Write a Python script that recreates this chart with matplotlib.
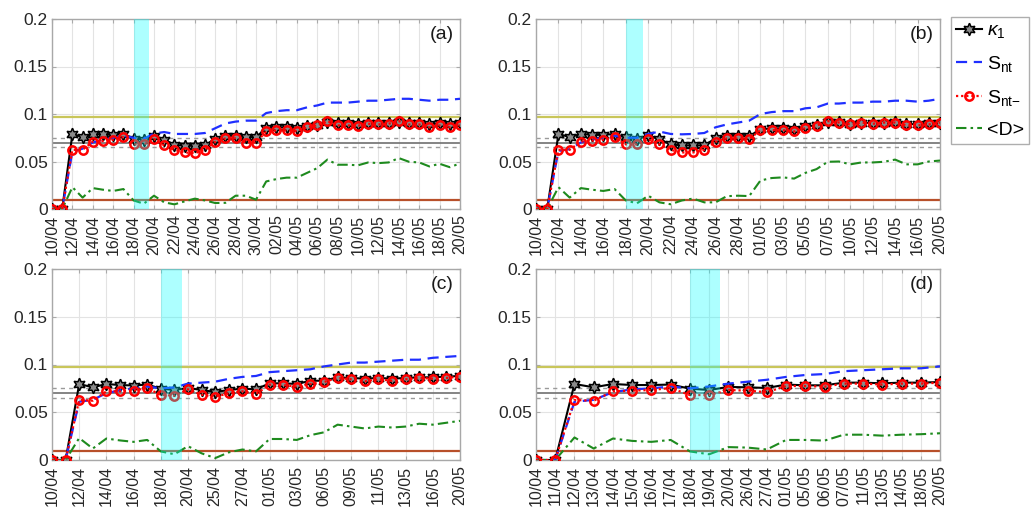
import numpy as np
import matplotlib
matplotlib.use("Agg")
import matplotlib.pyplot as plt

plt.rcParams['font.family'] = ['Liberation Sans', 'DejaVu Sans']
plt.rcParams['mathtext.fontset'] = 'custom'
plt.rcParams['mathtext.rm'] = 'Liberation Sans'
plt.rcParams['mathtext.it'] = 'Liberation Sans:italic'

# ---------------- data ----------------
ticks_a = ['10/04', '12/04', '14/04', '16/04', '18/04', '20/04', '22/04', '24/04', '26/04', '28/04',
           '30/04', '02/05', '04/05', '06/05', '08/05', '10/05', '12/05', '14/05', '16/05', '18/05', '20/05']
kappa_a = [0, 0, 0.079, 0.0757, 0.079, 0.0785, 0.078, 0.079, 0.074, 0.073, 0.077, 0.073, 0.0676, 0.0665,
           0.0665, 0.067, 0.074, 0.077, 0.077, 0.0757, 0.0757, 0.085, 0.086, 0.086, 0.085, 0.087, 0.0886,
           0.092, 0.0904, 0.0904, 0.0897, 0.091, 0.0904, 0.091, 0.092, 0.0904, 0.0904, 0.089, 0.0904, 0.089, 0.0904]
snt_a = [0, 0, 0.0606, 0.0635, 0.07, 0.073, 0.075, 0.077, 0.075, 0.074, 0.0795, 0.081, 0.079, 0.079, 0.079,
         0.08, 0.085, 0.09, 0.092, 0.093, 0.093, 0.101, 0.103, 0.104, 0.104, 0.107, 0.109, 0.112, 0.112, 0.112,
         0.113, 0.114, 0.114, 0.115, 0.116, 0.116, 0.115, 0.114, 0.115, 0.115, 0.116]
sntm_a = [0, 0, 0.0623, 0.0623, 0.071, 0.0715, 0.073, 0.0757, 0.068, 0.068, 0.0736, 0.067, 0.0623, 0.0595,
          0.0588, 0.0623, 0.0707, 0.0743, 0.0743, 0.070, 0.070, 0.0816, 0.0827, 0.0827, 0.082, 0.086, 0.088,
          0.0925, 0.088, 0.088, 0.0876, 0.0897, 0.089, 0.0897, 0.0925, 0.089, 0.089, 0.086, 0.088, 0.086, 0.088]
d_a = [0, 0, 0.023, 0.012, 0.022, 0.0203, 0.019, 0.021, 0.009, 0.0056, 0.014, 0.007, 0.0049, 0.008, 0.0109,
       0.009, 0.0063, 0.0065, 0.014, 0.014, 0.0098, 0.029, 0.0315, 0.033, 0.033, 0.038, 0.043, 0.052, 0.0466,
       0.0466, 0.046, 0.049, 0.0483, 0.049, 0.0536, 0.0497, 0.049, 0.0448, 0.0476, 0.044, 0.048]

ticks_b = ['10/04', '12/04', '14/04', '16/04', '18/04', '20/04', '22/04', '24/04', '26/04', '28/04',
           '01/05', '03/05', '05/05', '07/05', '10/05', '12/05', '14/05', '16/05', '20/05']
kappa_b = [0, 0, 0.079, 0.0757, 0.079, 0.078, 0.078, 0.079, 0.0753, 0.0736, 0.0778, 0.0736, 0.068, 0.067,
           0.067, 0.067, 0.0743, 0.077, 0.077, 0.0764, 0.084, 0.0848, 0.0848, 0.084, 0.087, 0.088, 0.092,
           0.092, 0.0897, 0.091, 0.0904, 0.091, 0.092, 0.0897, 0.089, 0.0904, 0.091]
snt_b = [0, 0, 0.061, 0.063, 0.07, 0.073, 0.075, 0.077, 0.075, 0.075, 0.079, 0.0815, 0.079, 0.0786, 0.079,
         0.08, 0.086, 0.089, 0.091, 0.093, 0.1, 0.102, 0.103, 0.103, 0.106, 0.107, 0.111, 0.111, 0.112, 0.112,
         0.113, 0.113, 0.114, 0.114, 0.113, 0.114, 0.116]
sntm_b = [0, 0, 0.0623, 0.0623, 0.071, 0.072, 0.073, 0.0757, 0.068, 0.068, 0.0736, 0.068, 0.0623, 0.0595,
          0.0595, 0.0623, 0.0707, 0.0743, 0.0743, 0.0736, 0.083, 0.083, 0.083, 0.0816, 0.085, 0.0876, 0.0925,
          0.091, 0.089, 0.091, 0.0897, 0.091, 0.091, 0.088, 0.088, 0.089, 0.091]
d_b = [0, 0, 0.023, 0.012, 0.022, 0.0203, 0.019, 0.021, 0.009, 0.006, 0.014, 0.007, 0.005, 0.009, 0.011,
       0.007, 0.007, 0.0135, 0.014, 0.0136, 0.030, 0.0326, 0.0333, 0.032, 0.038, 0.042, 0.0497, 0.050, 0.047,
       0.049, 0.049, 0.0497, 0.052, 0.047, 0.047, 0.050, 0.051]

ticks_c = ['10/04', '12/04', '14/04', '16/04', '18/04', '20/04', '25/04', '27/04', '01/05', '03/05',
           '06/05', '09/05', '11/05', '13/05', '16/05', '20/05']
kappa_c = [0, 0, 0.0796, 0.0761, 0.0796, 0.0785, 0.078, 0.079, 0.0747, 0.0733, 0.0754, 0.0733, 0.0712,
           0.0733, 0.0747, 0.074, 0.0803, 0.0803, 0.0796, 0.083, 0.083, 0.0866, 0.0859, 0.0852, 0.0859,
           0.0852, 0.0859, 0.0866, 0.0866, 0.0873, 0.088]
snt_c = [0, 0, 0.061, 0.063, 0.07, 0.073, 0.075, 0.077, 0.075, 0.076, 0.08, 0.081, 0.082, 0.085, 0.087,
         0.088, 0.092, 0.093, 0.094, 0.095, 0.098, 0.1, 0.102, 0.102, 0.103, 0.104, 0.105, 0.105, 0.107,
         0.108, 0.109]
sntm_c = [0, 0, 0.0628, 0.0621, 0.0719, 0.0719, 0.0726, 0.0754, 0.068, 0.0674, 0.074, 0.0684, 0.0663,
          0.0698, 0.0719, 0.0691, 0.0789, 0.0785, 0.0768, 0.0796, 0.0817, 0.0859, 0.0845, 0.0824, 0.0845,
          0.083, 0.0845, 0.0859, 0.0852, 0.0859, 0.0873]
d_c = [0, 0, 0.023, 0.012, 0.0225, 0.0205, 0.019, 0.021, 0.009, 0.006, 0.0145, 0.007, 0.002, 0.008, 0.011,
       0.009, 0.022, 0.022, 0.021, 0.026, 0.029, 0.037, 0.035, 0.033, 0.035, 0.034, 0.035, 0.038, 0.037,
       0.039, 0.041]

ticks_d = ['10/04', '11/04', '12/04', '13/04', '14/04', '15/04', '16/04', '17/04', '18/04', '19/04', '20/04',
           '26/04', '27/04', '01/05', '05/05', '06/05', '07/05', '11/05', '13/05', '14/05', '18/05', '20/05']
kappa_d = [0, 0, 0.0796, 0.0761, 0.0796, 0.0785, 0.0785, 0.079, 0.0747, 0.0733, 0.0765, 0.0761, 0.0754,
           0.079, 0.0782, 0.0782, 0.081, 0.081, 0.0803, 0.081, 0.081, 0.0817]
snt_d = [0, 0, 0.061, 0.063, 0.071, 0.074, 0.075, 0.077, 0.075, 0.077, 0.08, 0.082, 0.084, 0.087, 0.089,
         0.09, 0.093, 0.094, 0.095, 0.096, 0.096, 0.098]
sntm_d = [0, 0, 0.0628, 0.0621, 0.0719, 0.0726, 0.0733, 0.0754, 0.068, 0.068, 0.0733, 0.0726, 0.071,
          0.0775, 0.0775, 0.0768, 0.080, 0.080, 0.079, 0.080, 0.080, 0.081]
d_d = [0, 0, 0.0236, 0.012, 0.0225, 0.020, 0.019, 0.021, 0.009, 0.006, 0.0135, 0.013, 0.011, 0.021, 0.021,
       0.0203, 0.0265, 0.0265, 0.0255, 0.0265, 0.027, 0.028]

ref_yellow = 0.097
ref_gray = 0.070
ref_gray_band = [0.075, 0.065]
ref_brown = 0.0095
band = (8, 9.55)

panels = [
    ('(a)', ticks_a, 2, kappa_a, snt_a, sntm_a, d_a),
    ('(b)', ticks_b, 2, kappa_b, snt_b, sntm_b, d_b),
    ('(c)', ticks_c, 2, kappa_c, snt_c, sntm_c, d_c),
    ('(d)', ticks_d, 1, kappa_d, snt_d, sntm_d, d_d),
]

# ---------------- figure ----------------
W, H = 1033, 507
fig = plt.figure(figsize=(W / 100, H / 100), dpi=100)

def ax_rect(l, r, t, b):
    return [l / W, 1 - b / H, (r - l) / W, (b - t) / H]

rects = [ax_rect(52, 460, 19, 209), ax_rect(536, 940, 19, 209),
         ax_rect(52, 460, 269, 460), ax_rect(536, 940, 269, 460)]

star = (6, 1, 0)
handles = None
for rect, (lab, tlabels, step, kap, snt, sntm, dd) in zip(rects, panels):
    ax = fig.add_axes(rect)
    x = np.arange(len(kap))
    ax.axhline(ref_yellow, color='#c9c65a', lw=1.6, zorder=1)
    ax.axhline(ref_gray, color='#707070', lw=1.2, zorder=1)
    for v in ref_gray_band:
        ax.axhline(v, color='#9a9a9a', lw=1.0, ls=(0, (3, 3)), zorder=1)
    ax.axhline(ref_brown, color='#b8502a', lw=1.6, zorder=1)
    l1, = ax.plot(x, kap, color='black', lw=1.5, marker=star, ms=9, mfc='#8a8a8a', mec='black',
                  mew=1.1, zorder=3, label=r'$\kappa_1$')
    l2, = ax.plot(x, snt, color='#1f2fff', lw=1.6, ls=(0, (5, 3)), zorder=4, label=r'S$_{\rm nt}$')
    l3, = ax.plot(x, sntm, color='red', lw=1.6, ls=(0, (1, 1.3)), marker='o', ms=6, mfc='none',
                  mec='red', mew=1.8, zorder=5, label=r'S$_{\rm nt\!-}$')
    l4, = ax.plot(x, dd, color='#1e8a1e', lw=1.5, ls=(0, (5, 2, 1.2, 2)), zorder=4, label='<D>')
    ax.axvspan(band[0], band[1], color='cyan', alpha=0.32, lw=0, zorder=10)
    if handles is None:
        handles = [l1, l2, l3, l4]
    ax.set_xlim(0, len(kap) - 1)
    ax.set_ylim(0, 0.2)
    ax.set_xticks(x[::step])
    ax.set_xticklabels(tlabels, rotation=90, fontsize=11.5, color='#262626')
    ax.set_yticks([0, 0.05, 0.1, 0.15, 0.2])
    ax.set_yticklabels(['0', '0.05', '0.1', '0.15', '0.2'], fontsize=12.5, color='#262626')
    ax.grid(True, color='#e3e3e3', lw=0.8, zorder=0)
    ax.set_axisbelow(True)
    ax.tick_params(direction='in', length=3, color='#aaaaaa', top=True, right=True)
    ax.tick_params(axis='x', pad=4)
    ax.tick_params(axis='y', pad=3)
    for s in ax.spines.values():
        s.set_color('#a8a8a8')
        s.set_linewidth(1.0)
    ax.text(0.985, 0.965, lab, transform=ax.transAxes, ha='right', va='top', fontsize=14, color='#1a1a1a')

leg = fig.legend(handles=handles, loc='upper left', bbox_to_anchor=(951 / W, 1 - 17 / H),
                 bbox_transform=fig.transFigure, fontsize=14, frameon=True, fancybox=False,
                 handlelength=1.35, handletextpad=0.25, borderpad=0.25, labelspacing=0.7, borderaxespad=0)
leg.get_frame().set_edgecolor('#9a9a9a')
leg.get_frame().set_linewidth(1.0)

fig.savefig('out.png', dpi=100)
